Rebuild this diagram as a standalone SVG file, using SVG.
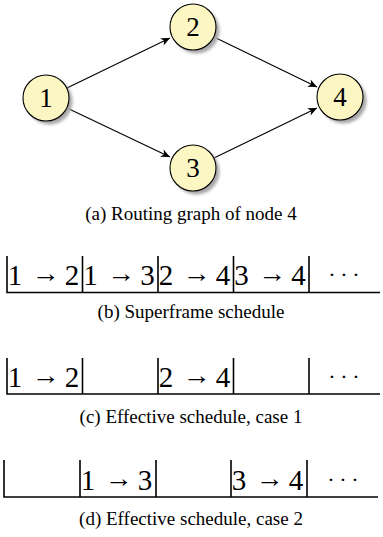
<svg xmlns="http://www.w3.org/2000/svg" width="383" height="537" viewBox="0 0 383 537">
<style>
.node circle.c{fill:#fcf6c3;stroke:#000;stroke-width:1.1}
.node circle.s{fill:#a8a8a8;filter:url(#blur)}
.node text{font-family:"Liberation Serif","Times New Roman",serif;font-size:27px;text-anchor:middle;fill:#000}
.edge{stroke:#000;stroke-width:1.1;fill:none;marker-end:url(#arr)}
.cap{font-family:"Liberation Serif","Times New Roman",serif;font-size:19px;text-anchor:middle;fill:#000}
.slot text{font-family:"Liberation Serif","Times New Roman",serif;font-size:29px;fill:#000;text-anchor:middle}
.slot text.ar{font-size:26px}
.dots{font-family:"Liberation Serif","Times New Roman",serif;font-size:22px;fill:#000;text-anchor:middle}
.sch{stroke:#000;stroke-width:1.6;fill:none}
</style>
<defs>
<filter id="blur" x="-30%" y="-30%" width="160%" height="160%"><feGaussianBlur stdDeviation="1.6"/></filter>
<marker id="arr" markerWidth="12" markerHeight="10" refX="10" refY="5" orient="auto" markerUnits="userSpaceOnUse">
<path d="M10,5 L1,1 L3.5,5 L1,9 Z" fill="#000"/>
</marker>
</defs>

<g id="connectors">
<line class="edge" x1="67" y1="88" x2="170" y2="38"/>
<line class="edge" x1="67" y1="108" x2="170" y2="157"/>
<line class="edge" x1="214" y1="37" x2="317" y2="87"/>
<line class="edge" x1="214" y1="158" x2="317" y2="108"/>
</g>

<g id="n1" class="node"><circle class="s" cx="49.5" cy="101.5" r="23"/><circle class="c" cx="46" cy="98" r="23"/><text x="46" y="107">1</text></g>
<g id="n2" class="node"><circle class="s" cx="196.5" cy="30.5" r="23"/><circle class="c" cx="193" cy="27" r="23"/><text x="193" y="36">2</text></g>
<g id="n3" class="node"><circle class="s" cx="196.5" cy="171.5" r="23"/><circle class="c" cx="193" cy="168" r="23"/><text x="193" y="177">3</text></g>
<g id="n4" class="node"><circle class="s" cx="343.5" cy="100.5" r="23"/><circle class="c" cx="340" cy="97" r="23"/><text x="340" y="106">4</text></g>

<text class="cap" x="191" y="220">(a) Routing graph of node 4</text>

<g id="schedule-b">
<path class="sch" d="M7,256 V292.5 H380 M82.5,256 V292.5 M158,256 V292.5 M233.5,256 V292.5 M309,256 V292.5"/>
<g class="slot">
<text x="15" y="285">1</text><text class="ar" x="46" y="282" textLength="28" lengthAdjust="spacingAndGlyphs">→</text><text x="72" y="285">2</text>
<text x="90.5" y="285">1</text><text class="ar" x="121.5" y="282" textLength="28" lengthAdjust="spacingAndGlyphs">→</text><text x="147.5" y="285">3</text>
<text x="166" y="285">2</text><text class="ar" x="197" y="282" textLength="28" lengthAdjust="spacingAndGlyphs">→</text><text x="223" y="285">4</text>
<text x="241.5" y="285">3</text><text class="ar" x="272.5" y="282" textLength="28" lengthAdjust="spacingAndGlyphs">→</text><text x="298.5" y="285">4</text>
</g>
<text class="dots" y="282"><tspan x="332">·</tspan><tspan x="344">·</tspan><tspan x="356">·</tspan></text>
</g>
<text class="cap" x="191" y="318">(b) Superframe schedule</text>

<g id="schedule-c">
<path class="sch" d="M7,358 V394 H380 M82.5,358 V394 M158,358 V394 M233.5,358 V394 M309,358 V394"/>
<g class="slot">
<text x="15" y="386.5">1</text><text class="ar" x="46" y="383.5" textLength="28" lengthAdjust="spacingAndGlyphs">→</text><text x="72" y="386.5">2</text>
<text x="166" y="386.5">2</text><text class="ar" x="197" y="383.5" textLength="28" lengthAdjust="spacingAndGlyphs">→</text><text x="223" y="386.5">4</text>
</g>
<text class="dots" y="383.5"><tspan x="332">·</tspan><tspan x="344">·</tspan><tspan x="356">·</tspan></text>
</g>
<text class="cap" x="191" y="423">(c) Effective schedule, case 1</text>

<g id="schedule-d">
<path class="sch" d="M4,460 V497 H378 M80,460 V497 M156,460 V497 M231,460 V497 M307,460 V497"/>
<g class="slot">
<text x="88" y="489.5">1</text><text class="ar" x="119" y="486.5" textLength="28" lengthAdjust="spacingAndGlyphs">→</text><text x="145" y="489.5">3</text>
<text x="239" y="489.5">3</text><text class="ar" x="270" y="486.5" textLength="28" lengthAdjust="spacingAndGlyphs">→</text><text x="296" y="489.5">4</text>
</g>
<text class="dots" y="486.5"><tspan x="331">·</tspan><tspan x="343">·</tspan><tspan x="355">·</tspan></text>
</g>
<text class="cap" x="191" y="525">(d) Effective schedule, case 2</text>
</svg>
